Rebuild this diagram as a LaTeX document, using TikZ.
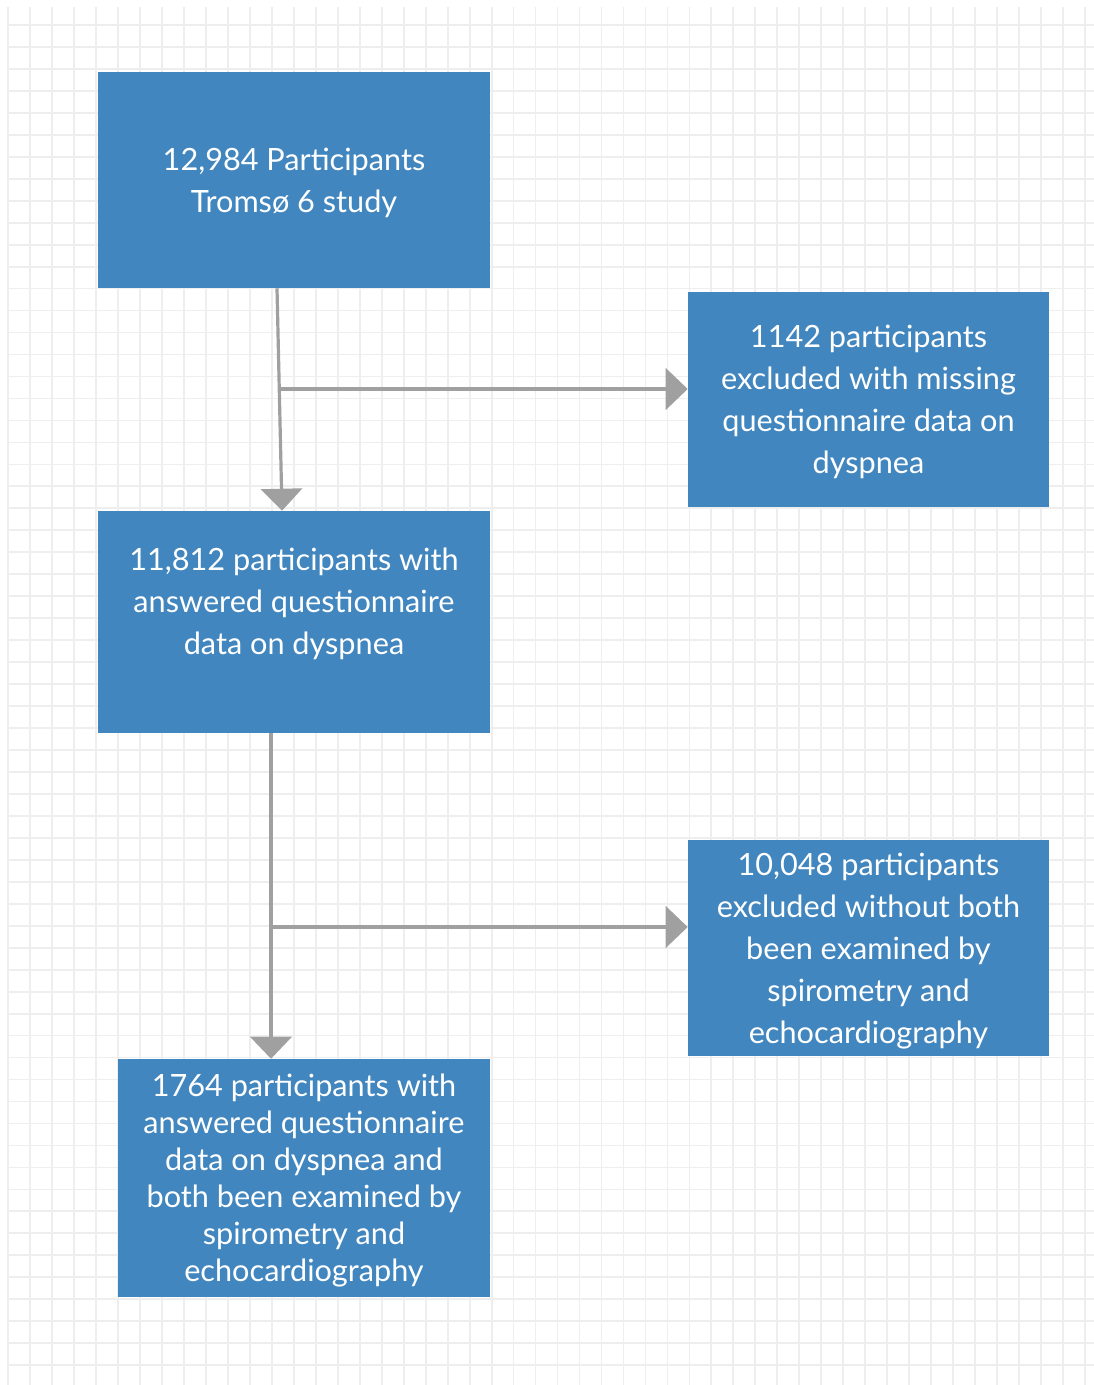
\documentclass[tikz,border=0pt]{standalone}
\usepackage{fontspec}
\setmainfont{Lato}
\usepackage{tikz}
\usetikzlibrary{arrows.meta}

\definecolor{boxblue}{RGB}{65,134,190}
\definecolor{flowgray}{RGB}{160,160,160}
\definecolor{gridgray}{RGB}{238,238,238}

\tikzset{
  gridline/.style={color=gridgray, line width=1.3pt},
  box/.style={fill=boxblue, text=white, align=center, inner sep=0pt,
    text depth=0pt, font=\fontsize{23}{31.5}\selectfont},
  flow/.style={draw=flowgray, line width=2.4pt,
    -{Triangle[length=16.5pt,width=31pt]}}
}

\begin{document}
\begin{tikzpicture}[x=0.75pt,y=0.75pt,yscale=-1]
\useasboundingbox (0,0) rectangle (1094,1385);

%Grid
\foreach \i in {0,...,49} \draw[gridline] ({8.3+21.97*\i},7) -- ({8.3+21.97*\i},1385);
\foreach \j in {1,...,62} \draw[gridline] (7,{3+21.97*\j}) -- (1094,{3+21.97*\j});

% Boxes
\node[box, minimum width=294pt, minimum height=162pt] (b1) at (294,180)
  {12,984 Participants\\Tromsø 6 study};
\node[box, minimum width=270.75pt, minimum height=161.25pt] (b2) at (868.5,399.5)
  {1142 participants\\excluded with missing\\questionnaire data on\\dyspnea};
\node[box, minimum width=294pt, minimum height=166.5pt] (b3) at (294,622)
  {11,812 participants with\\answered questionnaire\\data on dyspnea\\ \strut};
\node[box, minimum width=270.75pt, minimum height=162pt] (b4) at (868.5,948)
  {10,048 participants\\excluded without both\\been examined by\\spirometry and\\echocardiography};
\node[box, minimum width=279pt, minimum height=178.5pt,
  font=\fontsize{23}{27.75}\selectfont] (b5) at (304,1178)
  {1764 participants with\\answered questionnaire\\data on dyspnea and\\both been examined by\\spirometry and\\echocardiography};

% Connectors
\coordinate (j1) at (280,389);
\coordinate (j2) at (271,927);
\draw[flow] ([xshift=-12.75pt]b1.south) -- ([xshift=-9pt]b3.north);
\draw[flow] (j1) -- (b2.west |- j1);
\draw[flow] (j2 |- b3.south) -- (j2 |- b5.north);
\draw[flow] (j2) -- (b4.west |- j2);
\end{tikzpicture}
\end{document}
